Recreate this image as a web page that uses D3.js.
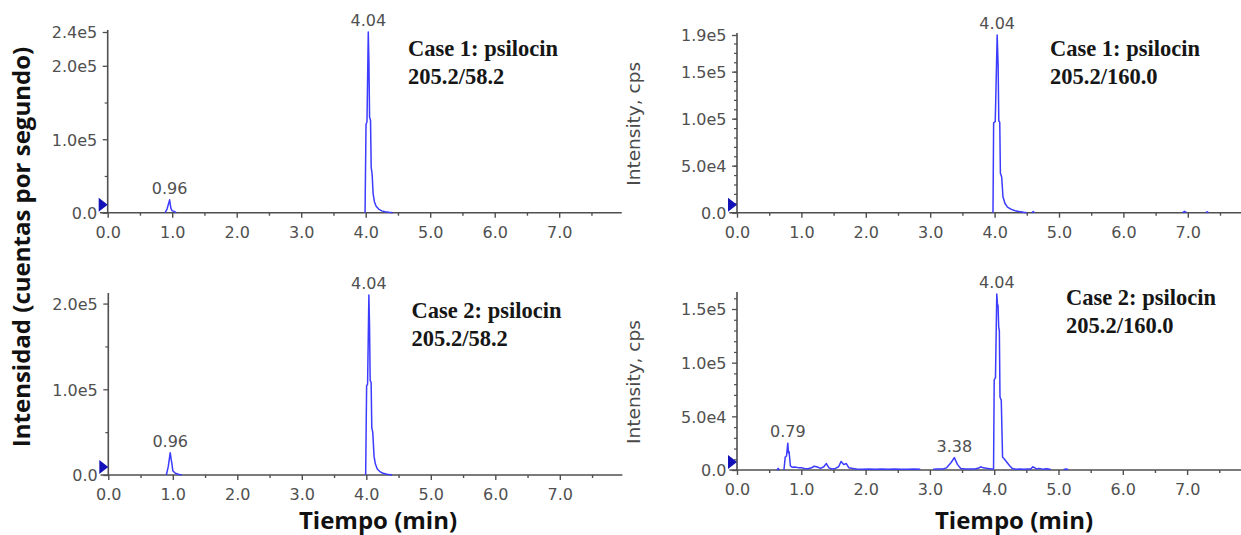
<!DOCTYPE html>
<html>
<head>
<meta charset="utf-8">
<script src="https://cdn.jsdelivr.net/npm/d3@7"></script>
<style>
  html, body { margin: 0; padding: 0; background: #fff; }
  svg { display: block; }
</style>
</head>
<body>
<svg id="chart" width="1241" height="535"></svg>
<script>
// ---- shared time axis ----
const timeMajor = [0, 1, 2, 3, 4, 5, 6, 7];
const timeMinor = [0.5, 1.5, 2.5, 3.5, 4.5, 5.5, 6.5, 7.5];

// ---- Case 1, transition 205.2/58.2 (null breaks the trace) ----
const c1q_time = [0.89, 0.92, 0.96, 0.98, 1.00, 1.03, 1.06, 1.08,
  3.99, 4.005, 4.02, 4.04, 4.05, 4.06, 4.075, 4.085, 4.10, 4.115, 4.135, 4.16, 4.20, 4.25, 4.30, 4.36, 4.42];
const c1q_int = [0, 5000, 17500, 6000, 2500, 2000, 0, null,
  0, 120000, 124000, 246000, 205000, 130000, 126000, 62000, 52000, 26000, 15000, 9000, 5000, 2500, 1200, 500, 0];
const c1q_peaks = [0.96, 4.04];
const c1q_yTicks = [0, 100000, 200000, 246000];
const c1q_yLabels = ["0.0", "1.0e5", "2.0e5", "2.4e5"];
const c1q_yMinor = [50000, 150000];
const c1q_title = ["Case 1: psilocin", "205.2/58.2"];

// ---- Case 1, transition 205.2/160.0 ----
const c1c_time = [3.975, 3.985, 4.01, 4.04, 4.055, 4.065, 4.08, 4.09, 4.11, 4.13, 4.16, 4.20, 4.26, 4.32, 4.38, 4.45, 4.50, 4.54,
  4.58, 4.60, 4.62, 4.64, 6.92, 6.95, 6.98, 7.00, 7.28, 7.30, 7.32];
const c1c_int = [0, 95500, 97000, 189000, 156000, 98000, 96000, 42000, 38000, 17000, 10000, 6000, 3500, 2000, 1200, 400, 0, null,
  0, 1200, 0, null, 0, 1500, 0, null, 0, 1000, 0];
const c1c_peaks = [4.04];
const c1c_yTicks = [0, 50000, 100000, 150000, 189000];
const c1c_yLabels = ["0.0", "5.0e4", "1.0e5", "1.5e5", "1.9e5"];
const c1c_yMinor = d3.range(10000, 189000, 10000);
const c1c_title = ["Case 1: psilocin", "205.2/160.0"];

// ---- Case 2, transition 205.2/58.2 ----
const c2q_time = [0.90, 0.93, 0.96, 0.975, 0.985, 1.00, 1.04, 1.10, 1.14, 1.16,
  3.99, 4.005, 4.02, 4.04, 4.05, 4.06, 4.075, 4.085, 4.10, 4.12, 4.14, 4.17, 4.21, 4.26, 4.32, 4.40];
const c2q_int = [0, 10000, 26000, 18000, 14000, 5000, 2000, 500, 0, null,
  0, 104000, 106000, 210000, 175000, 110000, 108000, 55000, 50000, 22000, 13000, 7000, 4000, 2000, 800, 0];
const c2q_peaks = [0.96, 4.04];
const c2q_yTicks = [0, 100000, 200000];
const c2q_yLabels = ["0.0", "1.0e5", "2.0e5"];
const c2q_yMinor = [50000, 150000];
const c2q_title = ["Case 2: psilocin", "205.2/58.2"];

// ---- Case 2, transition 205.2/160.0 ----
const c2c_time = [0.62, 0.64, 0.66, 0.68,
  0.73, 0.75, 0.77, 0.79, 0.80, 0.81, 0.83, 0.86, 0.90, 0.95, 1.00, 1.05, 1.10, 1.15, 1.20, 1.25, 1.30, 1.35, 1.39,
  1.43, 1.48, 1.53, 1.58, 1.62, 1.66, 1.70, 1.74, 1.80, 1.86, 1.95, 2.05, 2.15, 2.25, 2.35, 2.45, 2.55, 2.65, 2.75,
  2.85, 2.95,
  3.05, 3.12, 3.20, 3.26, 3.33, 3.38, 3.43, 3.48, 3.55, 3.62, 3.70, 3.76, 3.79, 3.83, 3.90, 3.96, 3.99,
  4.00, 4.02, 4.04, 4.05, 4.06, 4.07, 4.08, 4.09, 4.11, 4.13, 4.16, 4.20, 4.24, 4.28, 4.34, 4.40, 4.46, 4.52, 4.57,
  4.60, 4.63, 4.66, 4.70, 4.75, 4.82, 4.88, 4.95,
  5.08, 5.12, 5.15];
const c2c_int = [0, 1500, 0, null,
  0, 12000, 13000, 25000, 16000, 17000, 4000, 2500, 2800, 2200, 2000, 1500, 1200, 1800, 3500, 2800, 1500, 3000, 6000,
  2000, 1000, 1500, 3000, 8000, 5000, 6000, 2000, 1500, 1000, 800, 1000, 700, 900, 700, 900, 800, 700, 900,
  600, null,
  800, 1000, 900, 2000, 7000, 11500, 5000, 1500, 900, 1000, 900, 1800, 3000, 2000, 1500, 1000, 1000,
  84000, 86000, 164000, 155000, 153000, 133000, 130000, 68000, 65000, 12000, 10000, 7000, 4000, 1500, 800, 1000, 700, 900, 1000,
  3000, 2000, 1000, 1500, 800, 1200, 500, null,
  500, 1000, 500];
const c2c_peaks = [0.79, 3.38, 4.04];
const c2c_yTicks = [0, 50000, 100000, 150000];
const c2c_yLabels = ["0.0", "5.0e4", "1.0e5", "1.5e5"];
const c2c_yMinor = d3.range(10000, 164000, 10000).filter(v => v % 50000 !== 0);
const c2c_title = ["Case 2: psilocin", "205.2/160.0"];

// ---- panel layout ----
const panels = [
  { time: c1q_time, value: c1q_int, peaks: c1q_peaks, yTicks: c1q_yTicks, yLabels: c1q_yLabels, yMinor: c1q_yMinor, title: c1q_title,
    x0: 107.7, pxPerMin: 64.5, base: 212.7, top: 32, yMax: 246000, titleX: 408, titleY: 56, sideLabel: false },
  { time: c2q_time, value: c2q_int, peaks: c2q_peaks, yTicks: c2q_yTicks, yLabels: c2q_yLabels, yMinor: c2q_yMinor, title: c2q_title,
    x0: 108.3, pxPerMin: 64.5, base: 475, top: 295, yMax: 210000, titleX: 411.5, titleY: 318, sideLabel: false },
  { time: c1c_time, value: c1c_int, peaks: c1c_peaks, yTicks: c1c_yTicks, yLabels: c1c_yLabels, yMinor: c1c_yMinor, title: c1c_title,
    x0: 737, pxPerMin: 64.4, base: 212.7, top: 35, yMax: 189000, titleX: 1050, titleY: 56, sideLabel: true },
  { time: c2c_time, value: c2c_int, peaks: c2c_peaks, yTicks: c2c_yTicks, yLabels: c2c_yLabels, yMinor: c2c_yMinor, title: c2c_title,
    x0: 737, pxPerMin: 64.3, base: 470, top: 294, yMax: 164000, titleX: 1066, titleY: 305, sideLabel: true }
];

const svg = d3.select("#chart");
svg.append("rect").attr("width", 1241).attr("height", 535).attr("fill", "#fff");

const axisColor = "#4f4f4f";
const labelColor = "#505050";
const traceColor = "#3c3cff";
const tickFont = "'DejaVu Sans', sans-serif";

panels.forEach(p => {
  const x = d3.scaleLinear().domain([0, 8]).range([p.x0, p.x0 + 8 * p.pxPerMin]);
  const y = d3.scaleLinear().domain([0, p.yMax]).range([p.base, p.top]);
  const g = svg.append("g");

  // x axis: line, major and minor ticks
  g.append("line")
    .attr("x1", x(-0.12)).attr("x2", x(7.97))
    .attr("y1", y(0)).attr("y2", y(0))
    .attr("stroke", axisColor).attr("stroke-width", 1.6);

  const xMajor = g.append("g").attr("transform", `translate(0,${y(0)})`)
    .call(d3.axisBottom(x).tickValues(timeMajor).tickFormat(d3.format(".1f")).tickSize(5).tickPadding(0));
  xMajor.select(".domain").remove();
  xMajor.selectAll("line").attr("stroke", axisColor).attr("stroke-width", 1.4);
  xMajor.selectAll("text")
    .attr("y", 19.5).attr("dy", "0.36em")
    .attr("fill", labelColor).style("font-family", tickFont).style("font-size", "16px");

  const xMin = g.append("g").attr("transform", `translate(0,${y(0)})`)
    .call(d3.axisBottom(x).tickValues(timeMinor).tickFormat("").tickSize(3));
  xMin.select(".domain").remove();
  xMin.selectAll("line").attr("stroke", axisColor).attr("stroke-width", 1.4);

  // y axis
  g.append("line")
    .attr("x1", x(0)).attr("x2", x(0))
    .attr("y1", y(p.yMax) - 2).attr("y2", y(0))
    .attr("stroke", axisColor).attr("stroke-width", 1.6);

  const yMajor = g.append("g").attr("transform", `translate(${x(0)},0)`)
    .call(d3.axisLeft(y).tickValues(p.yTicks).tickFormat((d, i) => p.yLabels[i]).tickSize(5).tickPadding(5.5));
  yMajor.select(".domain").remove();
  yMajor.selectAll("line").attr("stroke", axisColor).attr("stroke-width", 1.3);
  yMajor.selectAll("text")
    .attr("dy", "0.36em")
    .attr("fill", labelColor).style("font-family", tickFont).style("font-size", "16px");

  const yMin = g.append("g").attr("transform", `translate(${x(0)},0)`)
    .call(d3.axisLeft(y).tickValues(p.yMinor).tickFormat("").tickSize(3));
  yMin.select(".domain").remove();
  yMin.selectAll("line").attr("stroke", axisColor).attr("stroke-width", 1.2);

  // start marker
  const mx = x(0), my = y(0);
  g.append("path")
    .attr("d", `M${mx - 9},${my - 15} L${mx},${my - 8} L${mx - 9},${my - 1} Z`)
    .attr("fill", "#1212b8");

  // trace
  const pts = p.time.map((t, i) => [t, p.value[i]]);
  const line = d3.line()
    .defined(d => d[1] !== null)
    .x(d => x(d[0]))
    .y(d => y(d[1]));
  g.append("path")
    .datum(pts)
    .attr("d", line)
    .attr("fill", "none")
    .attr("stroke", traceColor)
    .attr("stroke-width", 1.5)
    .attr("stroke-linejoin", "round");

  // retention-time labels above each apex
  p.peaks.forEach(t => {
    const idx = p.time.indexOf(t);
    g.append("text")
      .attr("x", x(t))
      .attr("y", y(p.value[idx]) - 6)
      .attr("text-anchor", "middle")
      .attr("fill", labelColor)
      .style("font-family", tickFont).style("font-size", "16px")
      .text(d3.format(".2f")(t));
  });

  // transition annotation
  p.title.forEach((s, i) => {
    g.append("text")
      .attr("x", p.titleX)
      .attr("y", p.titleY + i * 28)
      .attr("fill", "#161616")
      .style("font-family", "'Liberation Serif', 'Times New Roman', serif")
      .style("font-weight", "bold")
      .style("font-size", "22.5px")
      .text(s);
  });

  // per-panel intensity label on the right column
  if (p.sideLabel) {
    g.append("text")
      .attr("transform", `translate(640,${(p.base + p.top) / 2}) rotate(-90)`)
      .attr("text-anchor", "middle")
      .attr("fill", "#4a4a4a")
      .style("font-family", tickFont).style("font-size", "18.5px")
      .text("Intensity, cps");
  }
});

// shared axis titles
svg.append("text")
  .attr("transform", "translate(30,247) rotate(-90)")
  .attr("text-anchor", "middle")
  .attr("fill", "#111")
  .style("font-family", "'Open Sans', sans-serif")
  .style("font-weight", "bold")
  .style("font-size", "24px")
  .text("Intensidad (cuentas por segundo)");

svg.append("text")
  .attr("x", 378).attr("y", 528.5)
  .attr("text-anchor", "middle")
  .attr("fill", "#111")
  .style("font-family", "'Open Sans', sans-serif")
  .style("font-weight", "bold")
  .style("font-size", "24px")
  .text("Tiempo (min)");

svg.append("text")
  .attr("x", 1014).attr("y", 528.5)
  .attr("text-anchor", "middle")
  .attr("fill", "#111")
  .style("font-family", "'Open Sans', sans-serif")
  .style("font-weight", "bold")
  .style("font-size", "24px")
  .text("Tiempo (min)");
</script>
</body>
</html>
